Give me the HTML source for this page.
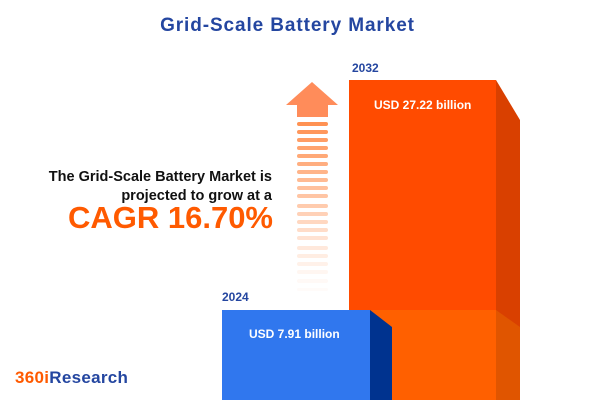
<!DOCTYPE html>
<html><head><style>
body{margin:0;width:600px;height:400px;background:#fff;position:relative;overflow:hidden;font-family:"Liberation Sans",sans-serif}
.a{position:absolute}
</style></head><body>
<div class="a" style="left:0;width:575px;top:15px;text-align:center;font-size:19px;letter-spacing:0.9px;font-weight:bold;color:#2446a0">Grid-Scale Battery Market</div>
<div class="a" style="right:328px;top:168px;text-align:right;font-size:14.5px;font-weight:bold;color:#111;line-height:19px;white-space:nowrap">The Grid-Scale Battery Market is<br>projected to grow at a</div>
<div class="a" style="right:327px;top:200px;font-size:31px;font-weight:bold;color:#ff5a00;white-space:nowrap">CAGR 16.70%</div>
<div class="a" style="left:15px;top:368px;font-size:17px;letter-spacing:0.3px;font-weight:bold;white-space:nowrap"><span style="color:#ff5a00">360i</span><span style="color:#2446a0">Research</span></div>
<svg class="a" style="left:0;top:0" width="600" height="400">
<polygon points="496,80 520,120 520,400 496,400" fill="#d94000"/>
<rect x="349" y="80" width="147" height="320" fill="#ff4b00"/>
<rect x="370" y="310" width="126" height="90" fill="#ff6000"/>
<polygon points="496,310 520,327 520,400 496,400" fill="#e05500"/>
<rect x="222" y="310" width="148" height="90" fill="#3077ee"/>
<polygon points="370,310 392,327 392,400 370,400" fill="#00338f"/>
<polygon points="312,82 338,105 328,105 328,117 297,117 297,105 286,105" fill="#ff8c5a"/>
<g fill="#ff8c4a">
<rect x="297" y="122" width="31" height="4" rx="2" opacity=".95"/>
<rect x="297" y="130" width="31" height="4" rx="2" opacity=".9"/>
<rect x="297" y="138" width="31" height="4" rx="2" opacity=".85"/>
<rect x="297" y="146" width="31" height="4" rx="2" opacity=".8"/>
<rect x="297" y="154" width="31" height="4" rx="2" opacity=".75"/>
<rect x="297" y="162" width="31" height="4" rx="2" opacity=".7"/>
<rect x="297" y="170" width="31" height="4" rx="2" opacity=".65"/>
<rect x="297" y="178" width="31" height="4" rx="2" opacity=".6"/>
<rect x="297" y="186" width="31" height="4" rx="2" opacity=".55"/>
<rect x="297" y="194" width="31" height="4" rx="2" opacity=".5"/>
<rect x="297" y="204" width="31" height="4" rx="2" opacity=".45"/>
<rect x="297" y="212" width="31" height="4" rx="2" opacity=".4"/>
<rect x="297" y="220" width="31" height="4" rx="2" opacity=".35"/>
<rect x="297" y="228" width="31" height="4" rx="2" opacity=".3"/>
<rect x="297" y="236" width="31" height="4" rx="2" opacity=".25"/>
<rect x="297" y="246" width="31" height="4" rx="2" opacity=".2"/>
<rect x="297" y="254" width="31" height="4" rx="2" opacity=".16"/>
<rect x="297" y="262" width="31" height="4" rx="2" opacity=".12"/>
<rect x="297" y="270" width="31" height="4" rx="2" opacity=".08"/>
<rect x="297" y="279" width="31" height="4" rx="2" opacity=".05"/>
<rect x="297" y="288" width="31" height="3" rx="1.5" opacity=".03"/>
</g>
<g font-family="Liberation Sans,sans-serif" font-weight="bold">
<text x="352" y="72" font-size="12" fill="#2446a0">2032</text>
<text x="222" y="301" font-size="12" fill="#2446a0">2024</text>
<text x="374" y="109" font-size="12" fill="#fff">USD 27.22 billion</text>
<text x="249" y="338" font-size="12" fill="#fff">USD 7.91 billion</text>
</g>
</svg>
</body></html>
